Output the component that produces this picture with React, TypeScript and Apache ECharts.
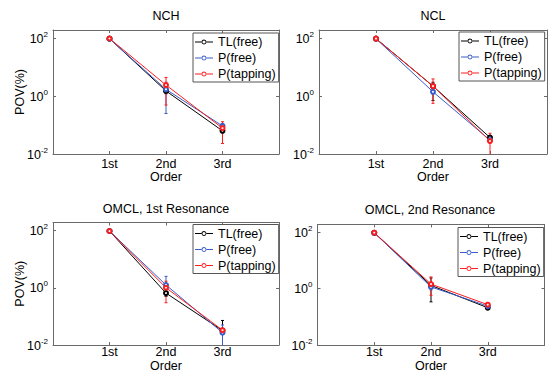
import React, { useEffect, useRef } from 'react';
import * as echarts from 'echarts';

// ---------- data ----------
const categories = ['1st', '2nd', '3rd'];
const orderPositions = [1, 2, 3];
const seriesNames = ['TL(free)', 'P(free)', 'P(tapping)'];
const panelTitles = ['NCH', 'NCL', 'OMCL, 1st Resonance', 'OMCL, 2nd Resonance'];
const yTickExponents = [-2, 0, 2];

// NCH  (POV %)
const nchTL = [96, 1.5, 0.063];
const nchTLLow = [96, 1.2, 0.055];
const nchTLHigh = [96, 1.9, 0.072];
const nchPFree = [95, 1.7, 0.093];
const nchPFreeLow = [95, 0.25, 0.075];
const nchPFreeHigh = [95, 3.0, 0.11];
const nchPTap = [97, 2.4, 0.078];
const nchPTapLow = [97, 0.49, 0.023];
const nchPTapHigh = [97, 4.4, 0.13];

// NCL
const nclTL = [96, 2.2, 0.037];
const nclTLLow = [96, 0.7, 0.032];
const nclTLHigh = [96, 3.0, 0.043];
const nclPFree = [95, 1.4, 0.03];
const nclPFreeLow = [95, 1.2, 0.027];
const nclPFreeHigh = [95, 1.6, 0.034];
const nclPTap = [96, 2.2, 0.028];
const nclPTapLow = [96, 0.56, 0.005];
const nclPTapHigh = [96, 3.9, 0.052];

// OMCL, 1st Resonance
const om1TL = [96, 0.65, 0.032];
const om1TLLow = [96, 0.5, 0.025];
const om1TLHigh = [96, 0.9, 0.072];
const om1PFree = [96, 1.25, 0.027];
const om1PFreeLow = [96, 0.6, 0.005];
const om1PFreeHigh = [96, 2.5, 0.05];
const om1PTap = [96, 1.0, 0.033];
const om1PTapLow = [96, 0.3, 0.028];
const om1PTapHigh = [96, 1.7, 0.038];

// OMCL, 2nd Resonance
const om2TL = [96, 1.3, 0.21];
const om2TLLow = [96, 0.34, 0.18];
const om2TLHigh = [96, 2.4, 0.24];
const om2PFree = [96, 1.15, 0.24];
const om2PFreeLow = [96, 0.9, 0.21];
const om2PFreeHigh = [96, 1.5, 0.27];
const om2PTap = [97, 1.45, 0.27];
const om2PTapLow = [97, 0.58, 0.23];
const om2PTapHigh = [97, 2.6, 0.31];

// ---------- style ----------
const FONT = 'Liberation Sans, Arial, Helvetica, sans-serif';
const FS = 12.5;
const BOX = '#6a6a6a';
const COLORS = ['#000000', '#3a5cc9', '#ff1c1c'];
const Y_MIN = -2;
const Y_MAX = 2.28;

// legend icon: thin line with a small open circle in the middle (18 x 5 box)
const LEGEND_ICON =
  'path://M0,2 L6.7,2 L6.7,3 L0,3 Z M11.3,2 L18,2 L18,3 L11.3,3 Z ' +
  'M6.5,2.5 A2.5,2.5 0 1,0 11.5,2.5 A2.5,2.5 0 1,0 6.5,2.5 Z ' +
  'M7.4,2.5 A1.6,1.6 0 1,1 10.6,2.5 A1.6,1.6 0 1,1 7.4,2.5 Z';

const panels = [
  {
    title: panelTitles[0], tx: 166, ty: 8,
    grid: { left: 53, top: 30, width: 226, height: 124 },
    legend: { left: 193, top: 33 },
    values: [nchTL, nchPFree, nchPTap],
    lows: [nchTLLow, nchPFreeLow, nchPTapLow],
    highs: [nchTLHigh, nchPFreeHigh, nchPTapHigh],
    yName: true, labelMargin: 4, nameGap: 17,
  },
  {
    title: panelTitles[1], tx: 433, ty: 8,
    grid: { left: 319, top: 30, width: 228, height: 124 },
    legend: { left: 459, top: 32 },
    values: [nclTL, nclPFree, nclPTap],
    lows: [nclTLLow, nclPFreeLow, nclPTapLow],
    highs: [nclTLHigh, nclPFreeHigh, nclPTapHigh],
    yName: false, labelMargin: 4, nameGap: 17,
  },
  {
    title: panelTitles[2], tx: 166, ty: 201,
    grid: { left: 53, top: 222.5, width: 226, height: 122.5 },
    legend: { left: 193, top: 224.5 },
    values: [om1TL, om1PFree, om1PTap],
    lows: [om1TLLow, om1PFreeLow, om1PTapLow],
    highs: [om1TLHigh, om1PFreeHigh, om1PTapHigh],
    yName: true, labelMargin: 1, nameGap: 15,
  },
  {
    title: panelTitles[3], tx: 430, ty: 202.5,
    grid: { left: 317.5, top: 224.4, width: 227, height: 120.6 },
    legend: { left: 458, top: 227.5 },
    values: [om2TL, om2PFree, om2PTap],
    lows: [om2TLLow, om2PFreeLow, om2PTapLow],
    highs: [om2TLHigh, om2PFreeHigh, om2PTapHigh],
    yName: false, labelMargin: 1, nameGap: 15,
  },
];

function buildOption() {
  const titles: any[] = [];
  const grids: any[] = [];
  const xAxes: any[] = [];
  const yAxes: any[] = [];
  const legends: any[] = [];
  const series: any[] = [];

  panels.forEach((p, g) => {
    titles.push({
      text: p.title,
      left: p.tx,
      top: p.ty,
      textAlign: 'center',
      padding: 0,
      textStyle: { fontFamily: FONT, fontSize: FS, fontWeight: 'normal', color: '#000', lineHeight: 15 },
    });
    grids.push({
      ...p.grid,
      show: false,
      containLabel: false,
      outerBoundsMode: 'none',
    });
    const tickStyle = { inside: true, length: 3, lineStyle: { color: BOX, width: 1 } };
    const lineStyle = { show: true, onZero: false, lineStyle: { color: BOX, width: 1 } };
    xAxes.push({
      gridIndex: g,
      type: 'value',
      position: 'bottom',
      min: 0,
      max: 4,
      interval: 1,
      axisLine: lineStyle,
      splitLine: { show: false },
      axisTick: tickStyle,
      axisLabel: {
        margin: p.labelMargin,
        color: '#000',
        fontFamily: FONT,
        fontSize: FS,
        lineHeight: 12,
        formatter: (v: number) => {
          const i = orderPositions.indexOf(v);
          return i >= 0 ? categories[i] : '';
        },
      },
      name: 'Order',
      nameLocation: 'middle',
      nameGap: p.nameGap,
      nameMoveOverlap: false,
      nameTextStyle: { color: '#000', fontFamily: FONT, fontSize: FS, lineHeight: 12 },
    });
    xAxes.push({
      gridIndex: g,
      type: 'value',
      position: 'top',
      min: 0,
      max: 4,
      interval: 1,
      axisLine: lineStyle,
      splitLine: { show: false },
      axisTick: tickStyle,
      axisLabel: { show: false },
    });
    yAxes.push({
      gridIndex: g,
      type: 'value',
      position: 'left',
      min: Y_MIN,
      max: Y_MAX,
      interval: 2,
      axisLine: lineStyle,
      splitLine: { show: false },
      axisTick: tickStyle,
      axisLabel: {
        margin: 5,
        formatter: (v: number) => {
          const e = Math.round(v);
          if (Math.abs(v - e) > 1e-6 || yTickExponents.indexOf(e) < 0) return '';
          return `{b|10}{s|${e}}`;
        },
        rich: {
          b: { fontFamily: FONT, fontSize: FS, color: '#000', lineHeight: 14, verticalAlign: 'bottom' },
          s: { fontFamily: FONT, fontSize: 8, color: '#000', lineHeight: 8, padding: [0, 0, 7, 0], verticalAlign: 'bottom' },
        },
      },
      name: p.yName ? 'POV(%)' : '',
      nameLocation: 'middle',
      nameGap: 27,
      nameMoveOverlap: false,
      nameTextStyle: { color: '#000', fontFamily: FONT, fontSize: FS, lineHeight: 12 },
    });
    yAxes.push({
      gridIndex: g,
      type: 'value',
      position: 'right',
      min: Y_MIN,
      max: Y_MAX,
      interval: 2,
      axisLine: lineStyle,
      splitLine: { show: false },
      axisTick: tickStyle,
      axisLabel: { show: false },
    });
    legends.push({
      data: seriesNames.map((n) => ({ name: n, icon: LEGEND_ICON })),
      orient: 'vertical',
      left: p.legend.left,
      top: p.legend.top,
      padding: [2, 3, 1, 2],
      itemGap: 2,
      itemWidth: 18,
      itemHeight: 5,
      borderColor: '#555',
      borderWidth: 1,
      borderRadius: 0,
      backgroundColor: '#fff',
      selectedMode: false,
      textStyle: { color: '#000', fontFamily: FONT, fontSize: FS, lineHeight: 14 },
    });

    seriesNames.forEach((name, k) => {
      const color = COLORS[k];
      const vals = p.values[k];
      const lo = p.lows[k];
      const hi = p.highs[k];
      const errData: number[][] = [];
      orderPositions.forEach((x, i) => {
        if (hi[i] > lo[i]) errData.push([x, Math.log10(lo[i]), Math.log10(hi[i])]);
      });
      series.push({
        type: 'custom',
        name: `err-${g}-${k}`,
        xAxisIndex: 2 * g,
        yAxisIndex: 2 * g,
        data: errData,
        encode: { x: 0, y: [1, 2] },
        silent: true,
        renderItem: (params: any, api: any) => {
          const x = api.value(0);
          const pLo = api.coord([x, api.value(1)]);
          const pHi = api.coord([x, api.value(2)]);
          const cs = params.coordSys;
          const top = cs.y;
          const bot = cs.y + cs.height;
          const y1 = Math.max(top, Math.min(bot, pHi[1]));
          const y2 = Math.max(top, Math.min(bot, pLo[1]));
          const st = { stroke: color, lineWidth: 1 };
          const cap = 1.5;
          const children: any[] = [
            { type: 'line', shape: { x1: pLo[0], y1, x2: pLo[0], y2 }, style: st },
          ];
          if (pHi[1] >= top && pHi[1] <= bot)
            children.push({ type: 'line', shape: { x1: pHi[0] - cap, y1: pHi[1], x2: pHi[0] + cap, y2: pHi[1] }, style: st });
          if (pLo[1] >= top && pLo[1] <= bot)
            children.push({ type: 'line', shape: { x1: pLo[0] - cap, y1: pLo[1], x2: pLo[0] + cap, y2: pLo[1] }, style: st });
          return { type: 'group', children };
        },
      });
      series.push({
        type: 'line',
        name,
        xAxisIndex: 2 * g,
        yAxisIndex: 2 * g,
        data: orderPositions.map((x, i) => [x, Math.log10(vals[i])]),
        symbol: 'emptyCircle',
        symbolSize: 4,
        showSymbol: true,
        color,
        itemStyle: { color, borderWidth: 1 },
        lineStyle: { color, width: 1 },
        silent: true,
      });
    });
  });

  return {
    animation: false,
    backgroundColor: '#fff',
    title: titles,
    grid: grids,
    xAxis: xAxes,
    yAxis: yAxes,
    legend: legends,
    series,
  };
}

export default function App() {
  const ref = useRef<HTMLDivElement>(null);
  useEffect(() => {
    if (!ref.current) return;
    const chart = echarts.init(ref.current, undefined, { renderer: 'svg' });
    chart.setOption(buildOption() as any);
    return () => chart.dispose();
  }, []);
  return (
    <div
      ref={ref}
      style={{ position: 'fixed', left: 0, top: 0, width: 554, height: 373, background: '#fff' }}
    />
  );
}
